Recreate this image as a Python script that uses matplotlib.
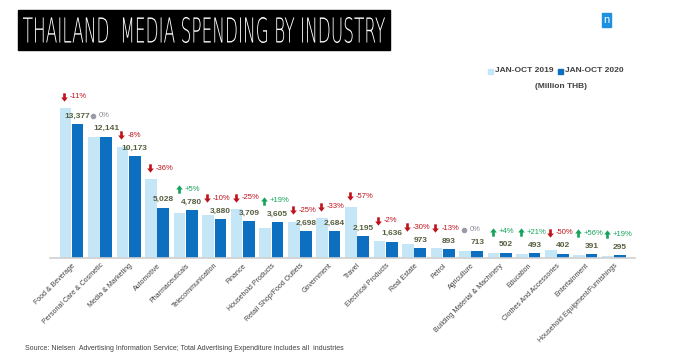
import matplotlib.pyplot as plt
from matplotlib.path import Path
from matplotlib.patches import Rectangle, PathPatch
from matplotlib.textpath import TextPath
from matplotlib.font_manager import FontProperties
from matplotlib.transforms import Affine2D

# Thailand media spending by industry, Jan-Oct 2019 vs 2020 (Million THB)
categories = ["Food & Beverage", "Personal Care & Cosmetic", "Media & Marketing",
              "Automotive", "Pharmaceuticals", "Telecommunication", "Finance",
              "Household Products", "Retail Shop/Food Outlets", "Government", "Travel",
              "Electrical Products", "Real Estate", "Petrol", "Agriculture",
              "Building Material & Machinery", "Education", "Clothes And Accessories",
              "Entertainment", "Household Equipment/Furnishings"]
spend_2019 = [15030, 12140, 11060, 7860, 4550, 4310, 4950, 3030, 3600, 4010, 5100,
              1670, 1390, 1030, 713, 483, 407, 804, 251, 248]
spend_2020 = [13377, 12141, 10173, 5028, 4780, 3880, 3709, 3605, 2698, 2684, 2195,
              1636, 973, 893, 713, 502, 493, 402, 391, 295]
change_pct = [-11, 0, -8, -36, 5, -10, -25, 19, -25, -33, -57,
              -2, -30, -13, 0, 4, 21, -50, 56, 19]

light = "#C4E6F7"
dark = "#0C6FC0"
red = "#C0121C"
green = "#13A35A"

plt.rcParams["font.family"] = ["Liberation Sans", "DejaVu Sans"]

fig = plt.figure(figsize=(6.75, 3.64), dpi=100)
ax = fig.add_axes([0.0742, 1 - 258 / 364, 0.867, 178 / 364])

x = list(range(len(categories)))
w = 0.41
ax.bar([i - 0.215 for i in x], spend_2019, width=w, color=light, zorder=2)
ax.bar([i + 0.215 for i in x], spend_2020, width=w, color=dark, zorder=2)

ax.set_xlim(-0.75, 19.75)
ax.set_ylim(0, 17800)
for s in ["top", "right", "left"]:
    ax.spines[s].set_visible(False)
ax.spines["bottom"].set_color("#D0D0D0")
ax.spines["bottom"].set_linewidth(1.2)
ax.set_yticks([])
ax.set_xticks(x)
ax.set_xticklabels(categories, rotation=45, ha="right", rotation_mode="anchor",
                   fontsize=5, color="#404040")
ax.tick_params(axis="x", length=0, pad=3)

# block arrow marker
up_arrow = Path([(-0.32, -1), (0.32, -1), (0.32, 0), (0.8, 0), (0, 1), (-0.8, 0),
                 (-0.32, 0), (-0.32, -1)],
                [Path.MOVETO] + [Path.LINETO] * 6 + [Path.CLOSEPOLY])
down_arrow = Path([(vx, -vy) for vx, vy in up_arrow.vertices], up_arrow.codes)

for i in x:
    v19, v20, p = spend_2019[i], spend_2020[i], change_pct[i]
    ax.text(i + 0.215, v20 + 450, f"{v20:,}", ha="center", va="bottom",
            fontsize=6, fontweight="bold", color="#55603F", zorder=3)
    ya = max(v19 + 1100, v20 + 2100)
    if p < 0:
        mk, col, txt = down_arrow, red, f"-{abs(p)}%"
    elif p > 0:
        mk, col, txt = up_arrow, green, f"+{p}%"
    else:
        mk, col, txt = "o", "#9A9AA8", "0%"
    ax.scatter([i - 0.25], [ya], marker=mk, s=36 if mk != "o" else 16, color=col,
               zorder=3, linewidths=0)
    ax.text(i - 0.05, ya, txt, ha="left", va="center", fontsize=5.5,
            color=col if p != 0 else "#8A8A95", zorder=3)

# legend
fig.patches.append(Rectangle((488 / 675, 1 - 74 / 364), 5 / 675, 5 / 364,
                             transform=fig.transFigure, color=light))
fig.text(495 / 675, 1 - 71 / 364, "JAN-OCT 2019", fontsize=6, fontweight="bold",
         color="#404040", va="center")
fig.patches.append(Rectangle((558 / 675, 1 - 74 / 364), 5 / 675, 5 / 364,
                             transform=fig.transFigure, color=dark))
fig.text(565 / 675, 1 - 71 / 364, "JAN-OCT 2020", fontsize=6, fontweight="bold",
         color="#404040", va="center")
fig.text(561 / 675, 1 - 87 / 364, "(Million THB)", fontsize=6, fontweight="bold",
         color="#404040", va="center", ha="center")

# title box with a condensed title (text path squeezed horizontally)
fig.patches.append(Rectangle((18 / 675, 1 - 50 / 364), 372 / 675, 40 / 364,
                             transform=fig.transFigure, color="black"))
tp = TextPath((0, 0), "THAILAND  MEDIA SPENDING BY INDUSTRY", size=10,
              prop=FontProperties(family="DejaVu Sans", weight="light"))
ext = tp.get_extents()
sx = 3.62 / ext.width
sy = 0.26 / ext.height
tr = (Affine2D().translate(-ext.x0, -ext.y0).scale(sx, sy)
      .translate(0.23, 3.64 - 0.43) + fig.dpi_scale_trans)
fig.patches.append(PathPatch(tp, transform=tr, color="white", lw=0))

# logo
fig.patches.append(Rectangle((602 / 675, 1 - 27 / 364), 9 / 675, 14 / 364,
                             transform=fig.transFigure, color="#1E90E0"))
fig.text(606.5 / 675, 1 - 20 / 364, "n", fontsize=8, color="white",
         ha="center", va="center")

fig.text(25 / 675, 1 - 349 / 364,
         "Source: Nielsen  Advertising Information Service; Total Advertising Expenditure includes all  industries",
         fontsize=5, color="#404040", va="center")

fig.savefig("out.png", dpi=100)
